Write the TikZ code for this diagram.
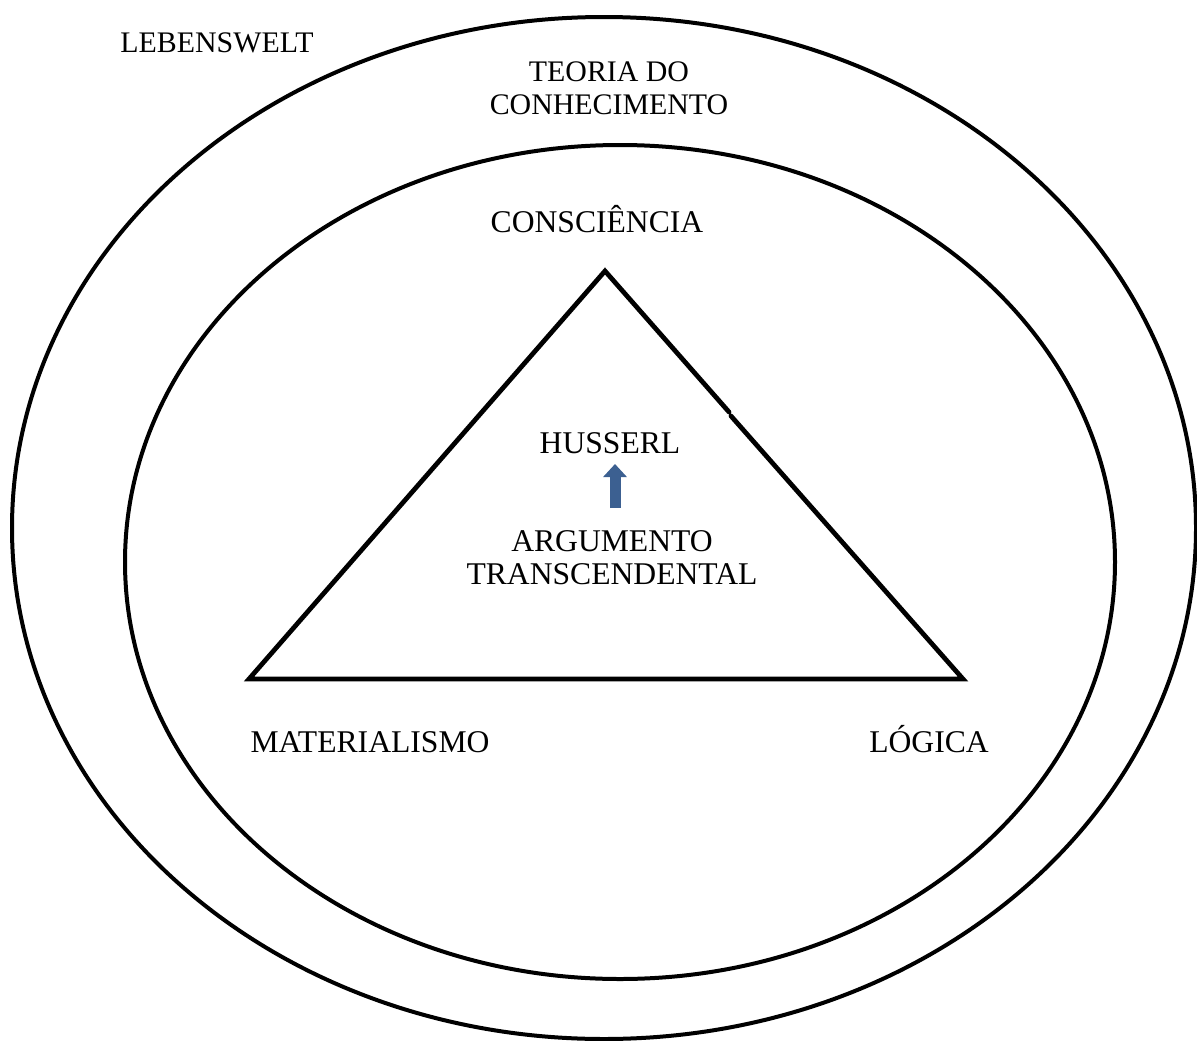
\documentclass[tikz,border=0pt]{standalone}
\usepackage{fontspec}
\setmainfont{Liberation Serif}
\usepackage{tikz}
\usetikzlibrary{arrows.meta,positioning}

\definecolor{arrowblue}{RGB}{60,96,145}

\begin{document}
\begin{tikzpicture}[
    x=0.02cm, y=-0.02cm,
    ring/.style={draw, line width=0.08cm},
    edge/.style={line width=0.095cm, line cap=round, line join=miter},
    label/.style={font=\fontsize{18}{18.8}\selectfont, align=center, inner sep=0pt},
    toplabel/.style={label, font=\fontsize{17}{18.8}\selectfont},
    uparrow/.style={draw=arrowblue, line width=0.22cm, -{Triangle[length=0.26cm, width=0.46cm]}}
]
\useasboundingbox (0,0) rectangle (1197,1041);

% Ellipses
\draw [ring] (604,528) ellipse [x radius=592, y radius=511];
\draw [ring] (620,562) ellipse [x radius=495, y radius=417];

% Outer labels
\node at (217,52) [toplabel, anchor=base] (lw) {LEBENSWELT};
\node at (609,88) [toplabel] (teoria) {TEORIA DO\\CONHECIMENTO};
\node at (597,232) [label, anchor=base] (consc) {CONSCIÊNCIA};

% Triangle
\coordinate (apex) at (605,271);
\coordinate (bl) at (249,679);
\coordinate (br) at (963,679);
\coordinate (gaptop) at (729,412);
\coordinate (gapbot) at (731,416);
\draw [edge] (gaptop) -- (apex) -- (bl) -- (br) -- (gapbot);

% Inner labels
\node at (610,453) [label, anchor=base] (husserl) {HUSSERL};
\node at (612,558) [label] (argum) {ARGUMENTO\\TRANSCENDENTAL};
\coordinate (arrowbase) at (615,508);
\coordinate (arrowtip) at (615,464);
\draw [uparrow] (arrowbase) -- (arrowtip);

% Corner labels
\node at (370,752) [label, anchor=base] (mat) {MATERIALISMO};
\node at (929,752) [label, anchor=base] (log) {LÓGICA};

\end{tikzpicture}
\end{document}
